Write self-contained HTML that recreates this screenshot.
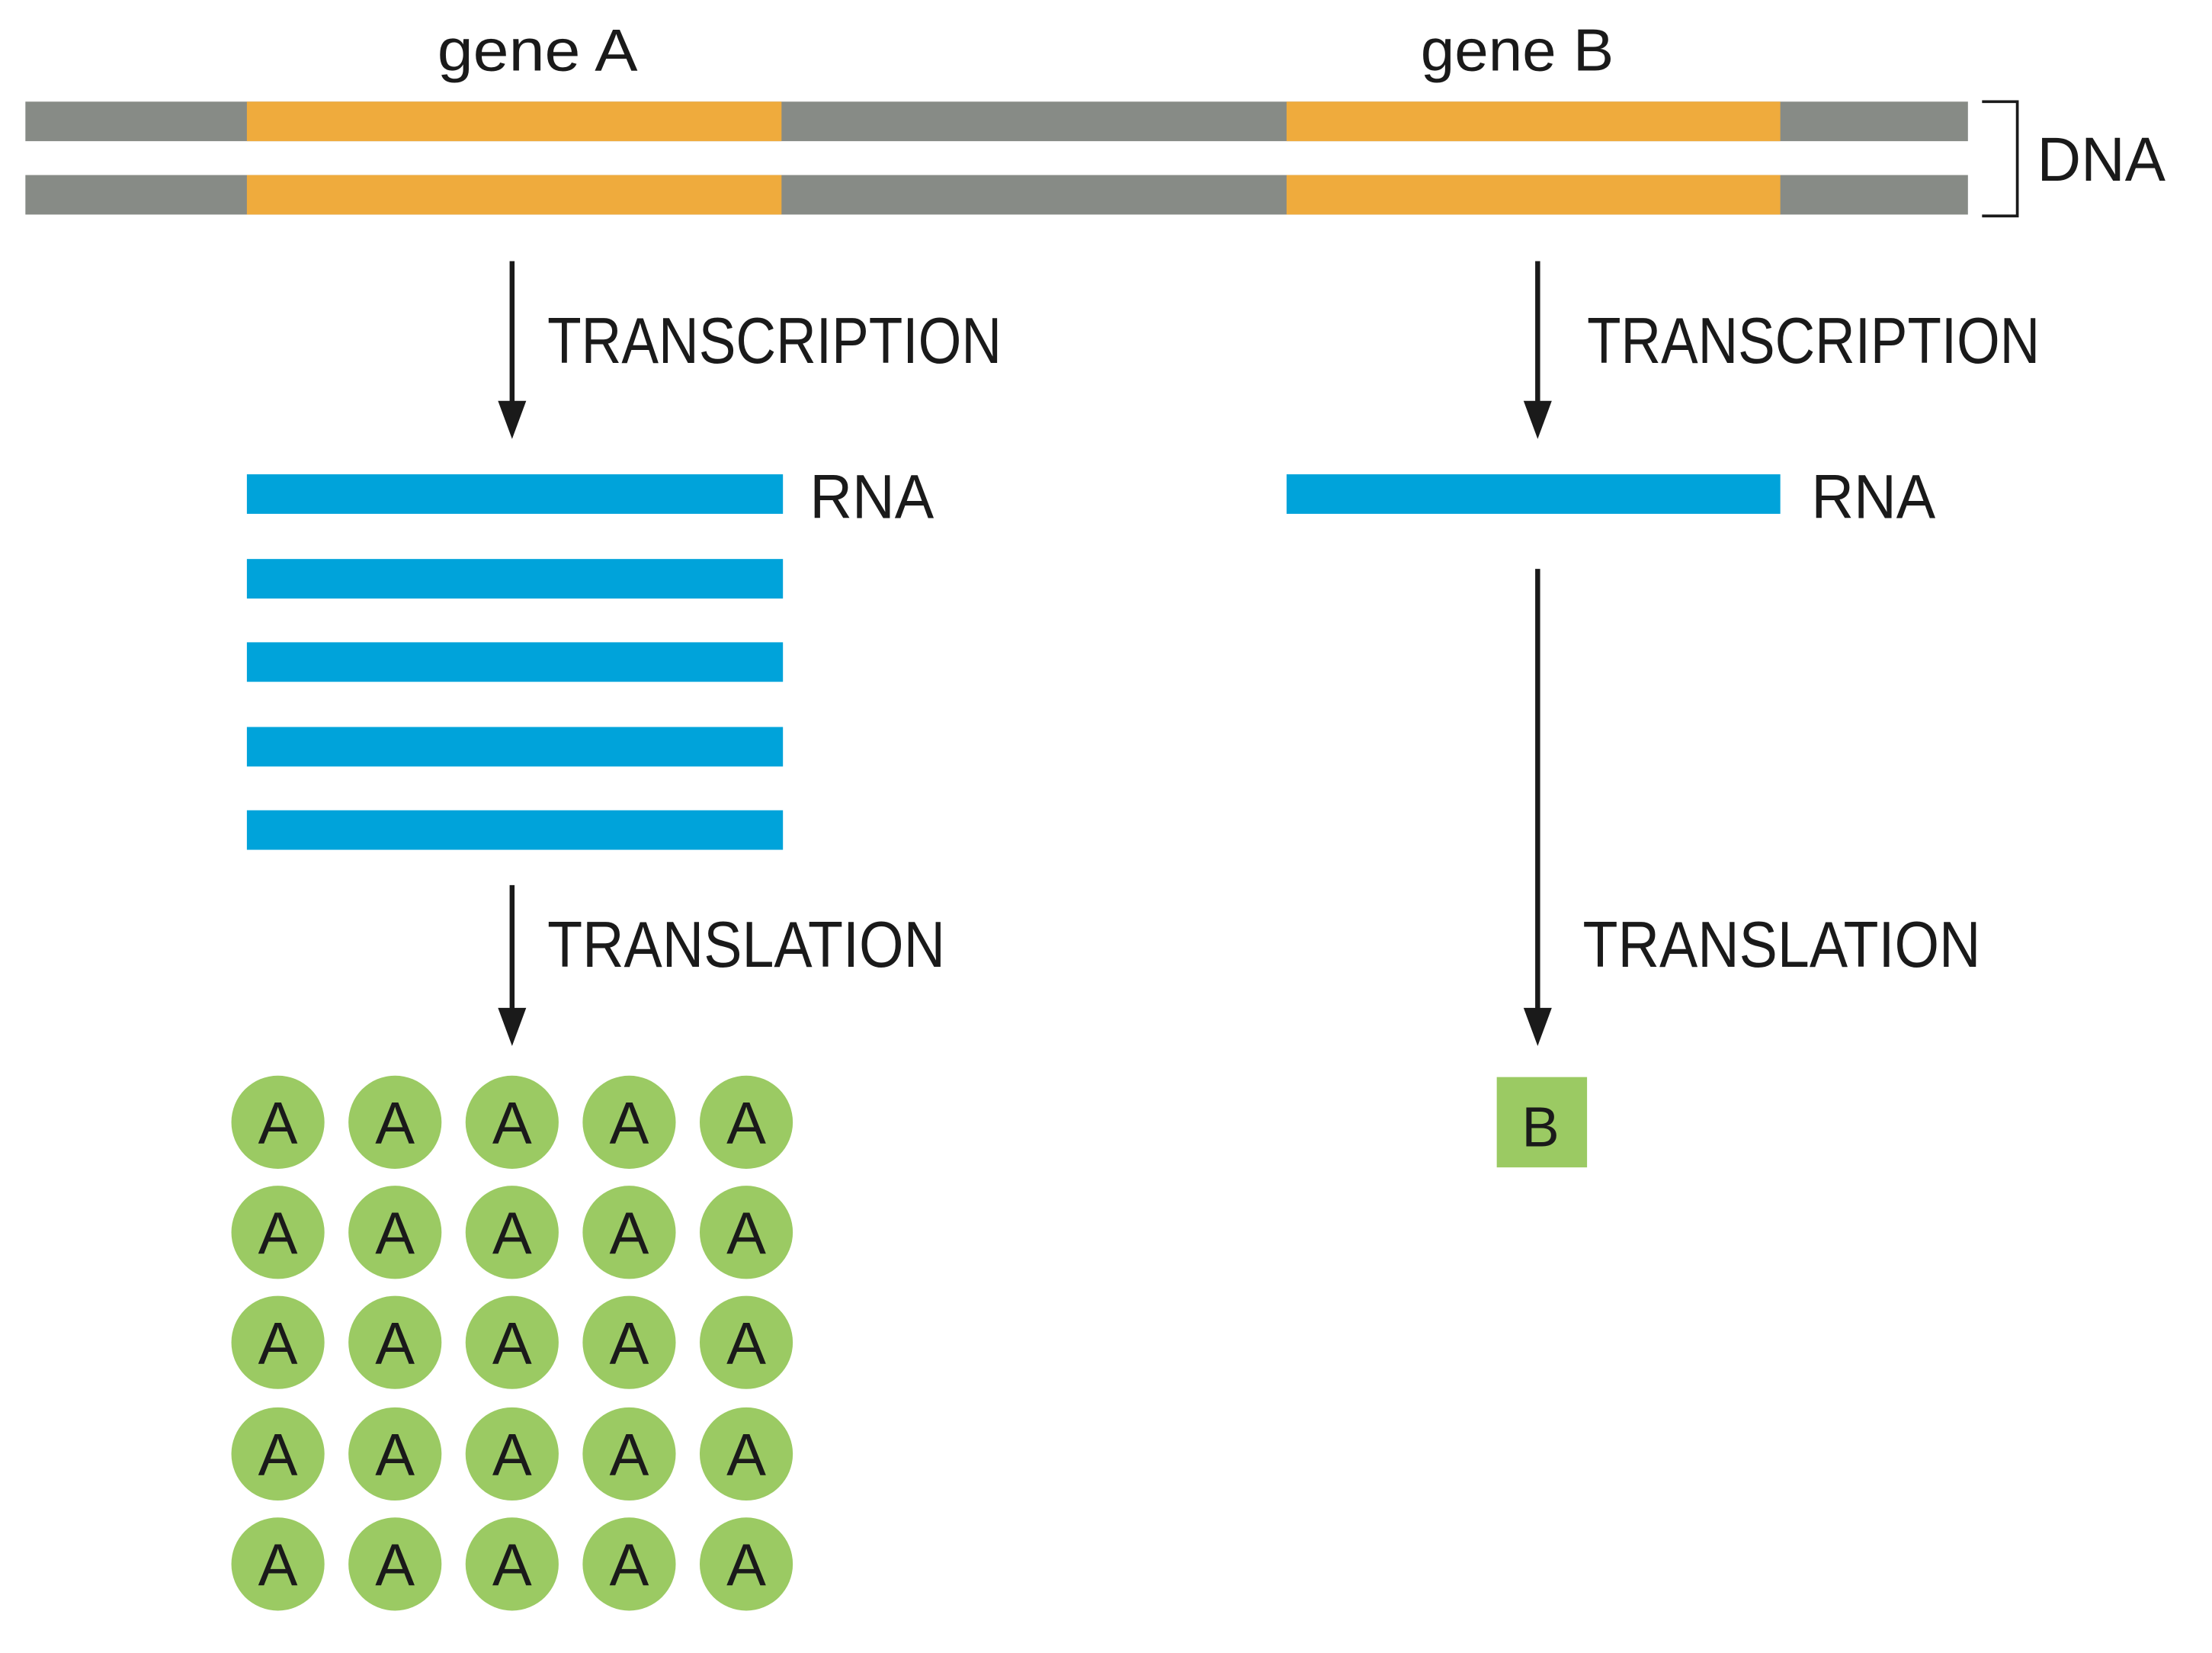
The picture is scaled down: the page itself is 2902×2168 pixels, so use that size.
<!DOCTYPE html>
<html><head><style>html,body{margin:0;padding:0;background:#fff}svg{display:block}</style></head><body>
<svg width="2902" height="2168" viewBox="0 0 1568 1171" preserveAspectRatio="none" xmlns="http://www.w3.org/2000/svg" font-family="Liberation Sans, sans-serif" fill="#1a1a1a">
<g>
<rect x="18" y="72" width="1377" height="28" fill="#878b86"/>
<rect x="18" y="124" width="1377" height="28" fill="#878b86"/>
<rect x="175" y="72" width="379" height="28" fill="#efab3d"/>
<rect x="175" y="124" width="379" height="28" fill="#efab3d"/>
<rect x="912" y="72" width="350" height="28" fill="#efab3d"/>
<rect x="912" y="124" width="350" height="28" fill="#efab3d"/>
<path d="M1405 72 H1430 V153 H1405" fill="none" stroke="#1a1a1a" stroke-width="2"/>
</g>
<text x="310" y="50" font-size="42" textLength="142" lengthAdjust="spacingAndGlyphs">gene A</text>
<text x="1007" y="50" font-size="42" textLength="137" lengthAdjust="spacingAndGlyphs">gene B</text>
<text x="1444" y="128" font-size="44" textLength="91" lengthAdjust="spacingAndGlyphs">DNA</text>
<g stroke="#1a1a1a" stroke-width="3.5">
<line x1="363" y1="185" x2="363" y2="288"/>
<line x1="1090" y1="185" x2="1090" y2="288"/>
<line x1="363" y1="627" x2="363" y2="718"/>
<line x1="1090" y1="403" x2="1090" y2="718"/>
</g>
<polygon points="353,284 373,284 363,311"/>
<polygon points="1080,284 1100,284 1090,311"/>
<polygon points="353,714 373,714 363,741"/>
<polygon points="1080,714 1100,714 1090,741"/>
<text x="388" y="257" font-size="46" textLength="322" lengthAdjust="spacingAndGlyphs">TRANSCRIPTION</text>
<text x="1125" y="257" font-size="46" textLength="321" lengthAdjust="spacingAndGlyphs">TRANSCRIPTION</text>
<text x="388" y="685" font-size="46" textLength="282" lengthAdjust="spacingAndGlyphs">TRANSLATION</text>
<text x="1122" y="685" font-size="46" textLength="282" lengthAdjust="spacingAndGlyphs">TRANSLATION</text>
<g fill="#00a3da">
<rect x="175" y="336" width="380" height="28"/>
<rect x="175" y="396" width="380" height="28"/>
<rect x="175" y="455" width="380" height="28"/>
<rect x="175" y="515" width="380" height="28"/>
<rect x="175" y="574" width="380" height="28"/>
<rect x="912" y="336" width="350" height="28"/>
</g>
<text x="574" y="367" font-size="44" textLength="88" lengthAdjust="spacingAndGlyphs">RNA</text>
<text x="1284" y="367" font-size="44" textLength="88" lengthAdjust="spacingAndGlyphs">RNA</text>
<rect x="1061" y="763" width="64" height="64" fill="#9bca63"/>
<text x="1092" y="812" font-size="40" text-anchor="middle">B</text>
<g font-size="42" text-anchor="middle">
<g fill="#9bca63">
<circle cx="197" cy="795" r="33"/><circle cx="280" cy="795" r="33"/><circle cx="363" cy="795" r="33"/><circle cx="446" cy="795" r="33"/><circle cx="529" cy="795" r="33"/>
<circle cx="197" cy="873" r="33"/><circle cx="280" cy="873" r="33"/><circle cx="363" cy="873" r="33"/><circle cx="446" cy="873" r="33"/><circle cx="529" cy="873" r="33"/>
<circle cx="197" cy="951" r="33"/><circle cx="280" cy="951" r="33"/><circle cx="363" cy="951" r="33"/><circle cx="446" cy="951" r="33"/><circle cx="529" cy="951" r="33"/>
<circle cx="197" cy="1030" r="33"/><circle cx="280" cy="1030" r="33"/><circle cx="363" cy="1030" r="33"/><circle cx="446" cy="1030" r="33"/><circle cx="529" cy="1030" r="33"/>
<circle cx="197" cy="1108" r="33"/><circle cx="280" cy="1108" r="33"/><circle cx="363" cy="1108" r="33"/><circle cx="446" cy="1108" r="33"/><circle cx="529" cy="1108" r="33"/>
</g>
<text x="197" y="810">A</text><text x="280" y="810">A</text><text x="363" y="810">A</text><text x="446" y="810">A</text><text x="529" y="810">A</text>
<text x="197" y="888">A</text><text x="280" y="888">A</text><text x="363" y="888">A</text><text x="446" y="888">A</text><text x="529" y="888">A</text>
<text x="197" y="966">A</text><text x="280" y="966">A</text><text x="363" y="966">A</text><text x="446" y="966">A</text><text x="529" y="966">A</text>
<text x="197" y="1045">A</text><text x="280" y="1045">A</text><text x="363" y="1045">A</text><text x="446" y="1045">A</text><text x="529" y="1045">A</text>
<text x="197" y="1123">A</text><text x="280" y="1123">A</text><text x="363" y="1123">A</text><text x="446" y="1123">A</text><text x="529" y="1123">A</text>
</g>
</svg>
</body></html>
